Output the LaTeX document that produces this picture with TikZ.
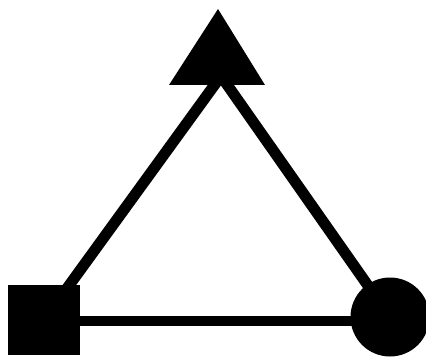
\documentclass[tikz,border=0pt]{standalone}
\begin{document}
\begin{tikzpicture}[x=1pt,y=-1pt,
  link/.style={draw=black,line width=11pt},
  base/.style={draw=black,line width=10pt},
  sqbox/.style={rectangle,fill=black,minimum width=72pt,minimum height=70pt,inner sep=0pt},
  rnd/.style={circle,fill=black,minimum size=79pt,inner sep=0pt}]
\useasboundingbox (0,0) rectangle (426,361);
\clip (0,0) rectangle (426,361);
\coordinate (meet) at (221,76);
\coordinate (apex) at (218,9);
\coordinate (bl) at (169,85);
\coordinate (br) at (265,85);
\coordinate (sqc) at (44,320);
\coordinate (cic) at (390,317);
\draw[link] (sqc) -- (meet);
\draw[link] (cic) -- (meet);
\draw[base] (sqc |- 0,321) -- (cic |- 0,321);
\fill[black] (apex) -- (br) -- (bl) -- cycle;
\node[sqbox] (sq) at (sqc) {};
\node[rnd] (ci) at (cic) {};
\end{tikzpicture}
\end{document}
